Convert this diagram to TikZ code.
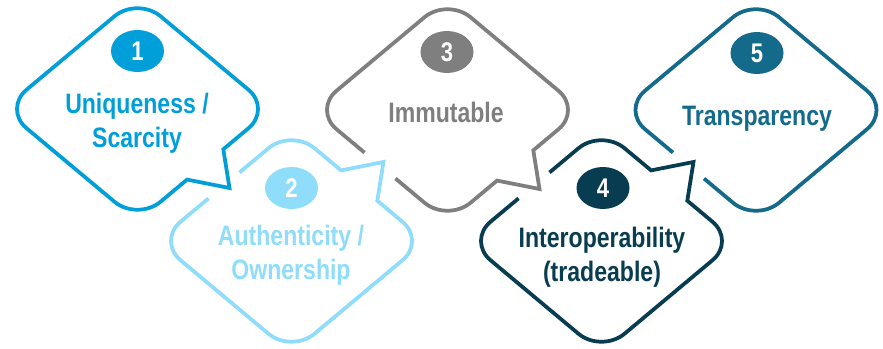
\documentclass[tikz,border=0pt]{standalone}
\usepackage{fontspec}
\usetikzlibrary{shapes.geometric}
\newfontfamily\lblfont{Liberation Sans}[FakeStretch=0.82]
\definecolor{cA}{HTML}{009FDA}
\definecolor{cB}{HTML}{8FDDFB}
\definecolor{cC}{HTML}{7F7F7F}
\definecolor{cD}{HTML}{073C51}
\definecolor{cE}{HTML}{136A8B}
% bubble with tail (lower right) and gap (lower left)
\newcommand{\bubbleTG}[1]{\draw[bubbleline,#1] (-52,68.5) -- (-23.02,92.76) .. controls (-10.31,103.39) and (10.31,103.39) .. (23.02,92.76) -- (49.6,70.6) -- (92,79) -- (85.8,40.3) -- (110.98,19.24) .. controls (123.69,8.61) and (123.69,-8.61) .. (110.98,-19.24) -- (23.02,-92.76) .. controls (10.31,-103.39) and (-10.31,-103.39) .. (-23.02,-92.76) -- (-110.98,-19.24) .. controls (-123.69,-8.61) and (-123.69,8.61) .. (-110.98,19.24) -- (-83,42.6);}
% bubble with tail only
\newcommand{\bubbleT}[1]{\draw[bubbleline,#1] (-110.98,19.24) -- (-23.02,92.76) .. controls (-10.31,103.39) and (10.31,103.39) .. (23.02,92.76) -- (49.6,70.6) -- (92,79) -- (85.8,40.3) -- (110.98,19.24) .. controls (123.69,8.61) and (123.69,-8.61) .. (110.98,-19.24) -- (23.02,-92.76) .. controls (10.31,-103.39) and (-10.31,-103.39) .. (-23.02,-92.76) -- (-110.98,-19.24) .. controls (-123.69,-8.61) and (-123.69,8.61) .. (-110.98,19.24) -- cycle;}
% bubble with gap only
\newcommand{\bubbleG}[1]{\draw[bubbleline,#1] (-52,68.5) -- (-23.02,92.76) .. controls (-10.31,103.39) and (10.31,103.39) .. (23.02,92.76) -- (110.98,19.24) .. controls (123.69,8.61) and (123.69,-8.61) .. (110.98,-19.24) -- (23.02,-92.76) .. controls (10.31,-103.39) and (-10.31,-103.39) .. (-23.02,-92.76) -- (-110.98,-19.24) .. controls (-123.69,-8.61) and (-123.69,8.61) .. (-110.98,19.24) -- (-83,42.6);}
\begin{document}
\begin{tikzpicture}[x=0.03cm,y=-0.03cm,
  bubbleline/.style={line width=3.2pt,line join=miter},
  numel/.style={ellipse,minimum width=1.59cm,minimum height=1.26cm,inner sep=0pt,text=white,font=\lblfont\bfseries\fontsize{23}{27}\selectfont},
  lbl/.style={anchor=base,inner sep=0pt,font=\lblfont\bfseries\fontsize{24}{29}\selectfont}]
\useasboundingbox[fill=white] (0,0) rectangle (883,349);
% shapes
\begin{scope}[shift={(756,110)}]\bubbleG{cE}\end{scope}
\begin{scope}[shift={(601.5,241)},yscale=-1]\bubbleTG{cD}\end{scope}
\begin{scope}[shift={(447.5,110)}]\bubbleTG{cC}\end{scope}
\begin{scope}[shift={(291.5,241)},yscale=-1]\bubbleTG{cB}\end{scope}
\begin{scope}[shift={(137.5,109)}]\bubbleT{cA}\end{scope}
% number badges
\node[numel,fill=cA] (n1) at (137.5,51) {1};
\node[numel,fill=cB] (n2) at (291.5,188) {2};
\node[numel,fill=cC] (n3) at (447,52) {3};
\node[numel,fill=cD] (n4) at (603,188) {4};
\node[numel,fill=cE] (n5) at (757,53) {5};
% labels
\node[lbl,text=cA] (t1) at (137,113.5) {\begin{tabular}[t]{@{}c@{}}Uniqueness /\\Scarcity\end{tabular}};
\node[lbl,text=cB] (t2) at (291,246) {\begin{tabular}[t]{@{}c@{}}Authenticity /\\Ownership\end{tabular}};
\node[lbl,text=cC] (t3) at (446,123) {Immutable};
\node[lbl,text=cD] (t4) at (602,248) {\begin{tabular}[t]{@{}c@{}}Interoperability\\(tradeable)\end{tabular}};
\node[lbl,text=cE] (t5) at (757,126) {Transparency};
\end{tikzpicture}
\end{document}
